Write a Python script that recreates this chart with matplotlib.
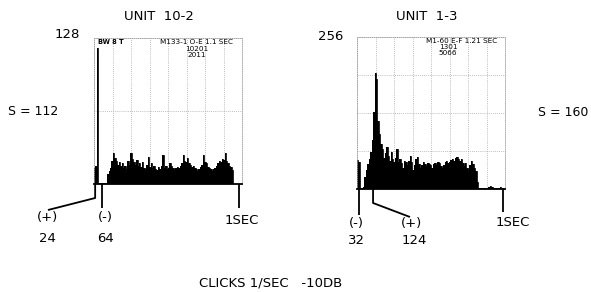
import numpy as np
import matplotlib
matplotlib.use("Agg")
import matplotlib.pyplot as plt
from matplotlib.transforms import blended_transform_factory

# ---------------- data ----------------
bin_width = 0.01  # seconds

# Unit 10-2 (left) PST histogram counts per bin, starting at t=0
left_counts = [14, 16, 119, 1, 1, 1, 1, 1, 1,
               9, 11, 14, 20, 27, 23, 20, 17, 19, 16,
               18, 14, 16, 13, 20, 17, 27, 22, 19, 17,
               21, 16, 18, 15, 19, 14, 13, 17, 24, 15,
               18, 14, 16, 13, 12, 15, 13, 16, 25, 14,
               16, 13, 14, 18, 16, 14, 13, 14, 15, 14,
               16, 18, 25, 20, 19, 23, 18, 17, 15, 16,
               14, 13, 11, 13, 15, 17, 25, 19, 18, 15,
               14, 13, 11, 13, 14, 16, 18, 20, 19, 22,
               21, 27, 20, 18, 16, 15, 12]

# Unit 1-3 (right) PST histogram counts per bin, starting at t=0
right_counts = [49, 45, 2, 1, 3, 20, 32, 42, 50, 62,
                82, 130, 195, 185, 115, 92, 75, 68, 52, 60,
                70, 55, 48, 62, 50, 45, 52, 68, 46, 50,
                43, 36, 48, 45, 40, 47, 55, 45, 32, 40,
                50, 54, 42, 36, 40, 45, 42, 38, 44, 42,
                40, 36, 42, 44, 40, 45, 43, 38, 36, 41,
                45, 47, 44, 46, 49, 50, 48, 52, 54, 50,
                48, 51, 43, 38, 44, 36, 33, 40, 47, 42,
                36, 30, 12, 2, 1, 1, 2, 1, 1, 2,
                3, 5, 4, 2, 1, 1, 2, 1, 3, 2, 1]

left_ymax = 128
right_ymax = 256
left_xmax = 1.02
right_xmax = 1.014

left_title = "UNIT  10-2"
right_title = "UNIT  1-3"
left_s = "S = 112"
right_s = "S = 160"
left_markers = {"plus": 0.008, "minus": 0.055, "sec": 1.0}
right_markers = {"minus": 0.014, "plus": 0.11, "sec": 1.0}
left_info = ["M133-1 O-E 1.1 SEC", "10201", "2011"]
right_info = ["M1-60 E-F 1.21 SEC", "1301", "5066"]
caption = "CLICKS 1/SEC   -10DB"

# ---------------- figure ----------------
W, H = 591, 292
fig = plt.figure(figsize=(W / 100, H / 100), dpi=100)
fig.patch.set_facecolor("white")


def fx(px):
    return px / W


def fy(py):
    return 1 - py / H


def make_axes(x0, x1, y0, y1):
    return fig.add_axes([fx(x0), fy(y1), fx(x1 - x0), (y1 - y0) / H])


axL = make_axes(94, 242, 38, 184)
axR = make_axes(357, 505, 37, 189)


def style(ax, counts, xmax, ymax, nydiv):
    edges = np.arange(len(counts) + 1) * bin_width
    ax.stairs(counts, edges, fill=True, color="black", linewidth=0)
    ax.stairs(counts, edges, fill=False, color="black", linewidth=0.6)
    ax.set_xlim(0, xmax)
    ax.set_ylim(0, ymax)
    ax.set_xticks(np.linspace(0, xmax, 9))
    ax.set_yticks(np.linspace(0, ymax, nydiv + 1))
    ax.grid(True, color="#a8a8a8", linestyle=(0, (1, 1.5)), linewidth=0.6)
    ax.set_axisbelow(True)
    ax.tick_params(length=0, labelbottom=False, labelleft=False)
    for s in ["top", "left", "right"]:
        ax.spines[s].set_color("#a0a0a0")
        ax.spines[s].set_linestyle((0, (1, 1.5)))
        ax.spines[s].set_linewidth(0.6)
    ax.spines["bottom"].set_color("black")
    ax.spines["bottom"].set_linewidth(1.3)
    ax.set_facecolor("white")


style(axL, left_counts, left_xmax, left_ymax, 2)
style(axR, right_counts, right_xmax, right_ymax, 4)

lw = 1.3


def marker_line(ax, xs, ys_px):
    tr = blended_transform_factory(ax.transData, fig.transFigure)
    ax.plot(xs, [fy(v) for v in ys_px], color="black", lw=lw,
            transform=tr, clip_on=False, solid_capstyle="butt")


# left markers
marker_line(axL, [left_markers["plus"], left_markers["plus"], (48 - 94) / 145],
            [184, 198, 210])
marker_line(axL, [left_markers["minus"]] * 2, [184, 208])
marker_line(axL, [left_markers["sec"]] * 2, [184, 208])
# right markers
marker_line(axR, [right_markers["minus"]] * 2, [189, 215])
marker_line(axR, [right_markers["plus"], right_markers["plus"], (410 - 357) / 146],
            [189, 203, 217])
marker_line(axR, [right_markers["sec"]] * 2, [189, 212])

# ---------------- texts ----------------
fs = 9.5


def t(px, py, s, size=fs, ha="center", **kw):
    fig.text(fx(px), fy(py), s, ha=ha, va="center", fontsize=size,
             family="DejaVu Sans", **kw)


t(159, 17, left_title)
t(427, 17, right_title)
t(67, 34, "128")
t(331, 36, "256")
t(33, 111, left_s, size=9)
t(563, 113, right_s, size=9)

t(47, 218, "(+)")
t(47, 238, "24")
t(105, 218, "(-)")
t(105, 238, "64")
t(242, 220, "1SEC")

t(356, 223, "(-)")
t(356, 240, "32")
t(411, 223, "(+)")
t(414, 240, "124")
t(513, 222, "1SEC")

t(271, 283, caption, size=9.5)

# small in-plot annotations
t(98, 42, "BW 8 T", size=4.8, ha="left", fontweight="bold")
t(197, 42, left_info[0], size=5.2)
t(197, 49, left_info[1], size=5.2)
t(197, 55, left_info[2], size=5.2)
t(462, 41, right_info[0], size=5.2)
t(448, 47, right_info[1], size=5.2)
t(448, 53, right_info[2], size=5.2)

fig.savefig("out.png", dpi=100, facecolor="white")
